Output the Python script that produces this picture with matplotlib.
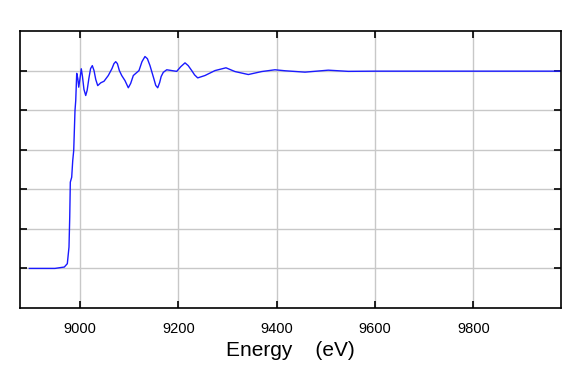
import matplotlib
matplotlib.use("Agg")
import matplotlib.pyplot as plt

plt.rcParams['font.family'] = ['Liberation Sans', 'DejaVu Sans']

# spectrum (energy in eV, normalised absorption)
energy = [8897, 8930, 8949, 8968.1, 8974.2, 8977.6, 8979.1, 8980.3, 8983.1,
          8985.2, 8987.2, 8989.8, 8991.3, 8993.3, 8995.5, 8997.4, 9000,
          9002.6, 9005, 9008, 9011.6, 9014.5, 9018, 9021.5, 9025, 9028.5,
          9032, 9036, 9042.1, 9048.8, 9057.5, 9065, 9069, 9072.6, 9076,
          9080, 9084.8, 9091.5, 9098.2, 9103, 9108.4, 9119.9, 9126, 9132.1,
          9137, 9142.3, 9150, 9154, 9158, 9162, 9165, 9169.3, 9176.3,
          9196.6, 9205, 9213.5, 9220, 9227.1, 9233, 9239.3, 9254.1, 9274.5,
          9296.8, 9315.1, 9342.2, 9369.4, 9396.4, 9416.8, 9457.4, 9504.8,
          9545.4, 9600, 9700, 9800, 9900, 9977]
mu = [0.0, 0.0, 0.0, 0.007, 0.024, 0.108, 0.259, 0.436, 0.461,
      0.545, 0.596, 0.798, 0.848, 0.986, 0.96, 0.916, 0.96,
      1.009, 0.97, 0.905, 0.874, 0.9, 0.96, 1.01, 1.025, 1.0,
      0.955, 0.924, 0.938, 0.946, 0.975, 1.01, 1.035, 1.045, 1.035,
      1.0, 0.975, 0.949, 0.913, 0.935, 0.975, 1.0, 1.045, 1.071,
      1.06, 1.025, 0.96, 0.925, 0.913, 0.94, 0.97, 0.991, 1.004,
      0.996, 1.02, 1.039, 1.025, 1.0, 0.978, 0.963, 0.975, 1.0,
      1.014, 0.995, 0.980, 0.995, 1.004, 0.999, 0.992, 1.002,
      0.996, 0.997, 0.997, 0.997, 0.997, 0.997]

xticks = [9000, 9200, 9400, 9600, 9800]
yticks = [0.0, 0.2, 0.4, 0.6, 0.8, 1.0]

fig = plt.figure(figsize=(5.85, 3.66), dpi=100)
ax = fig.add_axes([0.0342, 0.1585, 0.9248, 0.7568])

ax.plot(energy, mu, color="#1a1aff", linewidth=1.0)

ax.set_xlim(8878, 9978)
ax.set_ylim(-0.2, 1.2)
ax.set_xticks(xticks)
ax.set_yticks(yticks)
ax.set_yticklabels([])
ax.grid(True, color="#c8c8c8", linewidth=1.0)
ax.set_axisbelow(True)
ax.tick_params(direction="in", length=5, width=1.2, top=True, right=True,
               labelsize=10.5, pad=10)
for s in ax.spines.values():
    s.set_linewidth(1.2)

ax.set_xlabel("Energy    (eV)", fontsize=15, labelpad=4)

fig.savefig("out.png", dpi=100)
